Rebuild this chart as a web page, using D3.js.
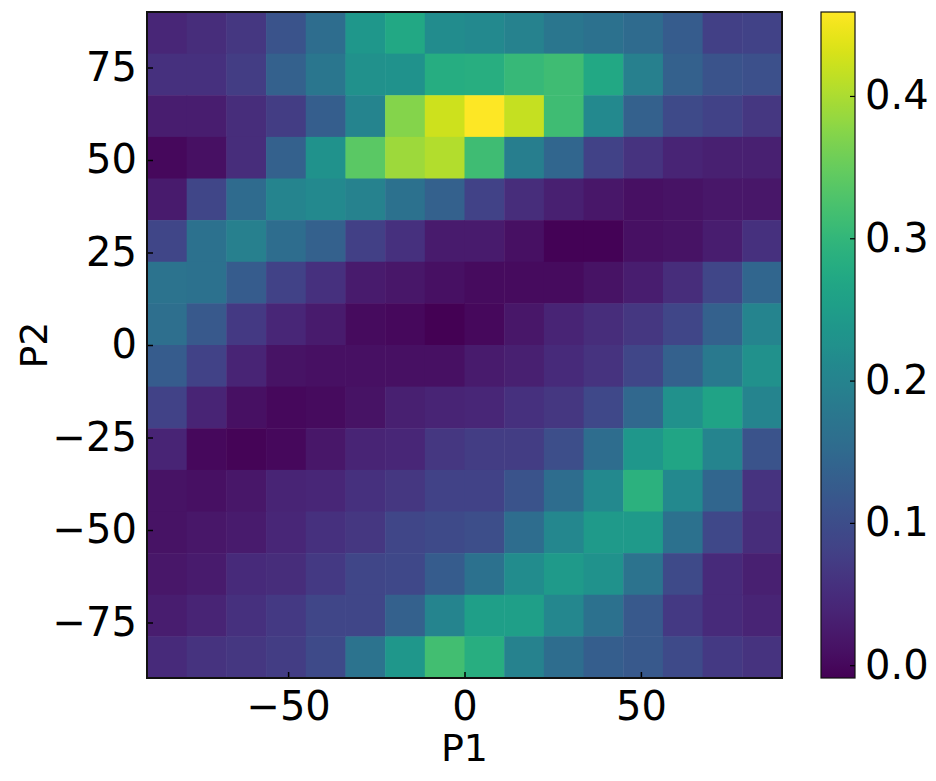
<!DOCTYPE html>
<html>
<head>
<meta charset="utf-8">
<script src="https://cdn.jsdelivr.net/npm/d3@7"></script>
<style>
  body { margin: 0; background: #fff; }
  text { font-family: "DejaVu Sans", sans-serif; fill: #000; }
</style>
</head>
<body>
<div id="chart"></div>
<script>
var width = 936;
var height = 781;

// bin edges along P1 and P2 (16 x 16 bins of 11.25)
var p1Edges = d3.range(17).map(function (i) { return -90 + i * 11.25; });
var p2Edges = d3.range(17).map(function (i) { return -90 + i * 11.25; });

var xTicks = [-50, 0, 50];
var yTicks = [-75, -50, -25, 0, 25, 50, 75];
var cbTicks = [0.0, 0.1, 0.2, 0.3, 0.4];

// rows from top (P2 = 90) to bottom (P2 = -90), columns from P1 = -90 to 90
var row0  = [0.042, 0.051, 0.065, 0.111, 0.157, 0.239, 0.271, 0.216, 0.212, 0.198, 0.175, 0.166, 0.152, 0.125, 0.079, 0.083];
var row1  = [0.056, 0.056, 0.074, 0.134, 0.175, 0.226, 0.230, 0.281, 0.285, 0.304, 0.313, 0.271, 0.193, 0.134, 0.111, 0.106];
var row2  = [0.028, 0.028, 0.051, 0.074, 0.129, 0.203, 0.372, 0.423, 0.459, 0.418, 0.313, 0.212, 0.134, 0.097, 0.083, 0.065];
var row3  = [0.001, 0.010, 0.051, 0.134, 0.230, 0.340, 0.391, 0.405, 0.313, 0.189, 0.143, 0.083, 0.060, 0.037, 0.033, 0.033];
var row4  = [0.024, 0.088, 0.152, 0.203, 0.212, 0.198, 0.166, 0.134, 0.083, 0.051, 0.033, 0.019, 0.010, 0.014, 0.019, 0.019];
var row5  = [0.088, 0.166, 0.193, 0.157, 0.134, 0.079, 0.056, 0.024, 0.024, 0.010, -0.007, -0.006, 0.010, 0.014, 0.028, 0.056];
var row6  = [0.170, 0.166, 0.125, 0.083, 0.056, 0.024, 0.019, 0.010, 0.005, 0.005, 0.005, 0.014, 0.028, 0.051, 0.088, 0.143];
var row7  = [0.161, 0.120, 0.069, 0.042, 0.024, 0.005, 0.001, -0.009, 0.001, 0.019, 0.037, 0.051, 0.065, 0.088, 0.134, 0.203];
var row8  = [0.125, 0.083, 0.037, 0.014, 0.010, 0.010, 0.010, 0.010, 0.024, 0.033, 0.046, 0.060, 0.088, 0.134, 0.180, 0.226];
var row9  = [0.083, 0.037, 0.010, 0.001, 0.005, 0.014, 0.033, 0.037, 0.042, 0.056, 0.065, 0.092, 0.147, 0.226, 0.262, 0.203];
var row10 = [0.037, 0.001, -0.005, 0.001, 0.019, 0.037, 0.042, 0.065, 0.074, 0.074, 0.102, 0.157, 0.239, 0.267, 0.203, 0.111];
var row11 = [0.014, 0.010, 0.019, 0.037, 0.042, 0.056, 0.065, 0.083, 0.083, 0.111, 0.157, 0.212, 0.290, 0.212, 0.143, 0.060];
var row12 = [0.014, 0.019, 0.024, 0.042, 0.056, 0.065, 0.088, 0.097, 0.102, 0.157, 0.207, 0.244, 0.244, 0.166, 0.092, 0.051];
var row13 = [0.019, 0.024, 0.046, 0.051, 0.069, 0.088, 0.092, 0.125, 0.166, 0.216, 0.244, 0.230, 0.170, 0.097, 0.046, 0.033];
var row14 = [0.028, 0.037, 0.056, 0.069, 0.088, 0.088, 0.134, 0.203, 0.253, 0.253, 0.207, 0.166, 0.120, 0.069, 0.046, 0.037];
var row15 = [0.046, 0.060, 0.065, 0.074, 0.097, 0.170, 0.239, 0.317, 0.285, 0.198, 0.157, 0.129, 0.120, 0.097, 0.069, 0.060];

var grid = [row0, row1, row2, row3, row4, row5, row6, row7, row8, row9, row10, row11, row12, row13, row14, row15];

var cells = [];
grid.forEach(function (row, r) {
  row.forEach(function (v, c) {
    // row 0 is the top bin
    cells.push({ x0: p1Edges[c], x1: p1Edges[c + 1], y0: p2Edges[15 - r], y1: p2Edges[16 - r], v: v });
  });
});

var plot = { left: 147, right: 782, top: 12, bottom: 678 };
var cb = { left: 821, right: 855 };

var svg = d3.select("#chart").append("svg")
    .attr("width", width)
    .attr("height", height);

var x = d3.scaleLinear().domain([-90, 90]).range([plot.left, plot.right]);
var y = d3.scaleLinear().domain([-90, 90]).range([plot.bottom, plot.top]);

var extent = d3.extent(cells, function (d) { return d.v; });
var color = d3.scaleSequential(d3.interpolateViridis).domain(extent);

svg.append("g").selectAll("rect")
    .data(cells)
    .enter().append("rect")
    .attr("x", function (d) { return x(d.x0); })
    .attr("y", function (d) { return y(d.y1); })
    .attr("width", function (d) { return x(d.x1) - x(d.x0) + 0.5; })
    .attr("height", function (d) { return y(d.y0) - y(d.y1) + 0.5; })
    .attr("fill", function (d) { return color(d.v); });

// axes, ticks pointing inwards
var xAxis = svg.append("g")
    .attr("transform", "translate(0," + plot.bottom + ")")
    .call(d3.axisBottom(x).tickValues(xTicks).tickSize(-6).tickPadding(12)
      .tickFormat(function (d) { return d < 0 ? "\u2212" + Math.abs(d) : d; }));
var yAxis = svg.append("g")
    .attr("transform", "translate(" + plot.left + ",0)")
    .call(d3.axisLeft(y).tickValues(yTicks).tickSize(-6).tickPadding(10)
      .tickFormat(function (d) { return d < 0 ? "\u2212" + Math.abs(d) : d; }));

[xAxis, yAxis].forEach(function (a) {
  a.select(".domain").remove();
  a.selectAll(".tick line").attr("stroke", "#000").attr("stroke-width", 1.5);
  a.selectAll(".tick text").style("font-size", "40px").attr("fill", "#000");
});
xAxis.selectAll(".tick text").attr("dy", "0.74em");

svg.append("rect")
    .attr("x", plot.left).attr("y", plot.top)
    .attr("width", plot.right - plot.left).attr("height", plot.bottom - plot.top)
    .attr("fill", "none").attr("stroke", "#111").attr("stroke-width", 2);

svg.append("text")
    .attr("x", (plot.left + plot.right) / 2)
    .attr("y", 761)
    .attr("text-anchor", "middle")
    .style("font-size", "38px")
    .text("P1");

svg.append("text")
    .attr("transform", "translate(47," + (plot.top + plot.bottom) / 2 + ") rotate(-90)")
    .attr("text-anchor", "middle")
    .style("font-size", "38px")
    .text("P2");

// colorbar
var cbScale = d3.scaleLinear().domain(extent).range([plot.bottom, plot.top]);

var grad = svg.append("defs").append("linearGradient")
    .attr("id", "viridis")
    .attr("x1", 0).attr("y1", 1).attr("x2", 0).attr("y2", 0);
grad.selectAll("stop")
    .data(d3.range(0, 1.0001, 0.02))
    .enter().append("stop")
    .attr("offset", function (t) { return t; })
    .attr("stop-color", function (t) { return d3.interpolateViridis(t); });

svg.append("rect")
    .attr("x", cb.left).attr("y", plot.top)
    .attr("width", cb.right - cb.left).attr("height", plot.bottom - plot.top)
    .attr("fill", "url(#viridis)")
    .attr("stroke", "#111").attr("stroke-width", 1.2);

var cbAxis = svg.append("g")
    .attr("transform", "translate(" + cb.right + ",0)")
    .call(d3.axisRight(cbScale).tickValues(cbTicks).tickSize(-5).tickPadding(10)
      .tickFormat(d3.format(".1f")));
cbAxis.select(".domain").remove();
cbAxis.selectAll(".tick line").attr("stroke", "#000").attr("stroke-width", 1.2);
cbAxis.selectAll(".tick text").style("font-size", "40px").attr("fill", "#000");
</script>
</body>
</html>
